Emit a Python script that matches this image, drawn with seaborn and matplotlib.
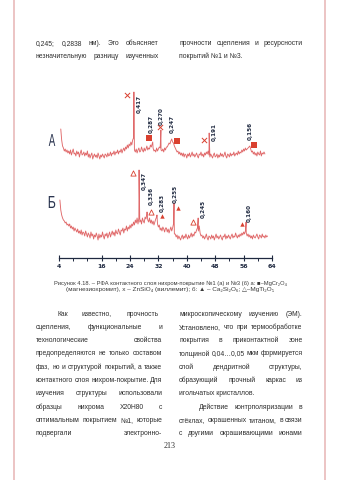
import matplotlib
matplotlib.use('Agg')
import matplotlib.pyplot as plt
import seaborn as sns
import numpy as np
import pandas as pd
from matplotlib.lines import Line2D
from matplotlib.textpath import TextPath
from matplotlib.patches import PathPatch
from matplotlib.font_manager import FontProperties
from matplotlib.transforms import Affine2D, IdentityTransform

W, H = 339, 480

# ---------------- data ----------------
# Trace A (coating No1): baseline samples every 0.25 deg from 4.5
A_base = [
    31, 20, 14, 12, 9, 11, 8, 10, 7, 9,
    6, 10, 5, 8, 11, 6, 7, 4, 9, 6,
    8, 3, 7, 10, 5, 6, 8, 4, 7, 5,
    9, 3, 6, 2, 5, 7, 1, 4, 6, 3,
    5, 2, 7, 4, 1, 5, 3, 6, 4, 2,
    6, 5, 3, 7, 4, 5, 8, 4, 7, 6,
    9, 5, 8, 7, 10, 6, 9, 8, 11, 7,
    10, 12, 9, 13, 11, 15, 12, 16, 14, 18,
    15, 20, 22, 10, 8, 11, 7, 10, 12, 8,
    9, 13, 10, 8, 12, 9, 11, 14, 10, 12,
    11, 15, 13, 16, 12, 9, 10, 8, 12, 9,
    11, 13, 12, 10, 9, 11, 8, 12, 10, 13,
    13, 15, 17, 16, 19, 21, 18, 17, 14, 12,
    10, 8, 9, 6, 8, 5, 7, 4, 7, 3,
    6, 5, 2, 6, 4, 7, 3, 5, 8, 4,
    6, 3, 5, 7, 4, 2, 6, 5, 8, 4,
    6, 3, 7, 5, 8, 6, 9, 5, 3, 6,
    4, 2, 5, 7, 3, 4, 6, 2, 5, 3,
    7, 4, 6, 3, 5, 8, 4, 2, 6, 5,
    3, 7, 4, 6, 5, 8, 4, 6, 7, 5,
    9, 6, 8, 7, 10, 8, 11, 9, 12, 10,
    11, 12, 13, 14, 11, 8, 9, 6, 8, 5,
    7, 4, 8, 6, 5, 9, 4, 7, 6, 8,
    6,
]
A_peak_x = [25.1, 30.4, 32.7, 46.3]
A_peak_y = [68, 18, 30, 27]

# Trace B (coating No3): baseline samples every 0.25 deg from 4.25
B_base = [
    42, 32, 27, 24, 22, 21, 19, 20, 17, 18,
    16, 18, 14, 16, 13, 15, 11, 14, 12, 10,
    13, 9, 11, 8, 12, 7, 10, 9, 6, 11,
    8, 5, 9, 7, 4, 10, 6, 8, 3, 7,
    5, 9, 6, 2, 8, 4, 7, 5, 10, 6,
    3, 8, 6, 9, 4, 7, 10, 5, 8, 11,
    7, 10, 6, 12, 9, 8, 13, 10, 7, 12,
    11, 14, 9, 13, 12, 16, 11, 15, 13, 17,
    14, 18, 16, 20, 17, 22, 19, 24, 18, 24,
    20, 22, 18, 24, 21, 19, 25, 23, 28, 22,
    20, 24, 19, 22, 18, 21, 17, 20, 23, 25,
    18, 15, 17, 12, 14, 11, 15, 13, 10, 14,
    14, 10, 13, 9, 12, 15, 11, 14, 18, 8,
    8, 5, 7, 3, 6, 4, 2, 5, 7, 3,
    6, 4, 8, 5, 3, 7, 4, 6, 9, 5,
    8, 6, 10, 9, 12, 14, 11, 16, 9, 6,
    7, 4, 6, 3, 5, 8, 4, 2, 6, 5,
    3, 7, 4, 6, 2, 5, 8, 4, 6, 3,
    5, 7, 4, 2, 6, 5, 8, 3, 6, 4,
    7, 5, 3, 6, 8, 4, 6, 5, 9, 6,
    4, 7, 5, 8, 6, 9, 7, 10, 8, 11,
    9, 6, 8, 5, 7, 4, 6, 3, 7, 5,
    4, 6, 8, 5, 3, 7, 6, 4, 8, 5,
    6, 4, 7, 5, 6,
]
B_peak_x = [26.55, 28.8, 31.6, 36.4, 43.2, 56.7]
B_peak_y = [72, 30, 27, 39, 24, 20]

# phase markers
A_sq_x, A_sq_y = [29.35, 37.24, 58.93], [22, 19, 15]          # MgCr2O4
A_x_x, A_x_y = [23.15, 32.45, 44.85], [65, 33, 20]             # ZnSiO4
B_tf_x, B_tf_y = [33.01, 37.52, 55.55], [26, 34, 18]            # Ca2Si2O6
B_to_x, B_to_y = [24.85, 29.92, 41.75], [69, 30, 20]            # MgTi2O5

A_labels = ['0,417', '0,287', '0,270', '0,247', '0,191', '0,156']
B_labels = ['0,347', '0,336', '0,283', '0,255', '0,245', '0,160']
# label anchor positions (x, bottom) in the panel's own units
A_lab_x = [26.54, 29.92, 32.73, 35.83, 47.66, 57.8]
A_lab_y = [47, 27, 35, 27, 19, 20]
B_lab_x = [27.94, 29.92, 33.0, 36.68, 44.56, 57.52]
B_lab_y = [52, 37, 30, 39, 24, 20]

major_ticks = [4, 16, 24, 32, 40, 48, 56, 64]
minor_ticks = [8, 12, 20, 28, 36, 44, 52, 60]

caption1 = "Рисунок 4.18. – РФА контактного слоя нихром-покрытие №1 (а) и №3 (б) а: ■–MgCr₂O₄"
caption2 = "(магнезиохромит), x – ZnSiO₄ (виллемит); б: ▲ – Ca₂Si₂O₆; △–MgTi₂O₅"

top_left = ["0,245; 0,2838 нм). Это объясняет", "незначительную разницу изученных"]
top_right = ["прочности сцепления и ресурсности", "покрытий №1 и №3."]
left_col = [
    "Как известно, прочность",
    "сцепления, функциональные и",
    "технологические свойства",
    "предопределяются не только составом",
    "фаз, но и структурой покрытий, а также",
    "контактного слоя нихром-покрытие. Для",
    "изучения структуры использовали",
    "образцы нихрома Х20Н80 с",
    "оптимальным покрытием №1, которые",
    "подвергали электронно-",
]
right_col = [
    "микроскопическому изучению (ЭМ).",
    "Установлено, что при термообработке",
    "покрытия в приконтактной зоне",
    "толщиной 0,04…0,05 мкм формируется",
    "слой дендритной структуры,",
    "образующий прочный каркас из",
    "игольчатых кристаллов.",
    "Действие контрполяризации в",
    "стёклах, окрашенных титаном, в связи",
    "с другими окрашивающими ионами",
]
page_no = "213"
panel_letters = ['А', 'Б']

# ---------------- style ----------------
sns.set_style('white')
plt.rcParams['font.family'] = ['Liberation Sans', 'DejaVu Sans']

TRACE = '#e0696a'
MRED = '#d9402f'
NAVY = '#1f2940'
TXT = '#2e2e2e'
BODY_FS = 4.9

fig = plt.figure(figsize=(W / 100, H / 100), dpi=100)
fig.patch.set_facecolor('white')
renderer = fig.canvas.get_renderer()

# page frame lines
for xp in (14, 325):
    fig.add_artist(Line2D([xp / W, xp / W], [0, 1], color='#e7b4b4', lw=1.1))

# ---------------- chart ----------------
AX_BOTTOM = 257.5
ax = fig.add_axes([59 / W, 1 - AX_BOTTOM / H, 213 / W, 197.5 / H])
ax.set_xlim(4, 64)
ax.set_ylim(0, 197.5)
OFF_A = AX_BOTTOM - 160
OFF_B = AX_BOTTOM - 242

def trace_df(base, x0, px, py, off):
    xs = x0 + 0.25 * np.arange(len(base))
    df = pd.DataFrame({'x': np.r_[xs, px], 'y': np.r_[base, py]}).sort_values('x')
    df['y'] = df['y'] + off
    return df

dfA = trace_df(A_base, 4.5, A_peak_x, A_peak_y, OFF_A)
dfB = trace_df(B_base, 4.25, B_peak_x, B_peak_y, OFF_B)
sns.lineplot(data=dfA, x='x', y='y', ax=ax, color=TRACE, lw=0.65, estimator=None, sort=False)
sns.lineplot(data=dfB, x='x', y='y', ax=ax, color=TRACE, lw=0.65, estimator=None, sort=False)

sns.scatterplot(x=A_sq_x, y=np.array(A_sq_y) + OFF_A, marker='s', s=18, color=MRED, linewidth=0, ax=ax)
sns.scatterplot(x=A_x_x, y=np.array(A_x_y) + OFF_A, marker='x', s=14, color=MRED, linewidth=0.7, ax=ax)
sns.scatterplot(x=B_tf_x, y=np.array(B_tf_y) + OFF_B, marker='^', s=10, color=MRED, linewidth=0, ax=ax)
sns.scatterplot(x=B_to_x, y=np.array(B_to_y) + OFF_B, marker='^', s=14, color='white',
                edgecolor=MRED, linewidth=0.6, ax=ax)

LAB_FS = 4.1
for s, xx, yy in zip(A_labels, A_lab_x, A_lab_y):
    ax.text(xx, yy + OFF_A, s, rotation=90, ha='center', va='bottom', fontsize=LAB_FS,
            fontweight='bold', color=NAVY, family='DejaVu Sans')
for s, xx, yy in zip(B_labels, B_lab_x, B_lab_y):
    ax.text(xx, yy + OFF_B, s, rotation=90, ha='center', va='bottom', fontsize=LAB_FS,
            fontweight='bold', color=NAVY, family='DejaVu Sans')

for sp in ('top', 'left', 'right'):
    ax.spines[sp].set_visible(False)
ax.spines['bottom'].set_color(NAVY)
ax.spines['bottom'].set_linewidth(0.9)
ax.set_yticks([])
ax.set_xticks(major_ticks)
ax.set_xticks(minor_ticks, minor=True)
ax.set_xticklabels([str(t) for t in major_ticks])
ax.tick_params(axis='x', which='major', bottom=True, direction='inout', length=4.5, width=0.8,
               color=NAVY, labelsize=4.4, pad=2.6, labelcolor=NAVY)
ax.tick_params(axis='x', which='minor', bottom=True, direction='out', length=2.2, width=0.7, color=NAVY)
for lab in ax.get_xticklabels():
    lab.set_fontweight('bold')
    lab.set_family('DejaVu Sans')
ax.set_xlabel('')
ax.set_ylabel('')
ax.patch.set_alpha(0)

# panel letters: tall, condensed glyphs
fp = FontProperties(family='Liberation Sans')
for letter, (cx, cy) in zip(panel_letters, [(52, 140), (52, 202)]):
    tp = TextPath((0, 0), letter, size=10, prop=fp)
    bb = tp.get_extents()
    sx, sy = 6.5 / bb.width, 12.0 / bb.height
    tr = (Affine2D().translate(-bb.x0 - bb.width / 2, -bb.y0 - bb.height / 2)
          .scale(sx, sy).translate(cx, H - cy))
    patch = PathPatch(tr.transform_path(tp), facecolor='#2b3550', edgecolor='none',
                      transform=IdentityTransform())
    fig.add_artist(patch)

# ---------------- page text ----------------
FAM = ['Liberation Sans', 'DejaVu Sans']

def width(s, fs, fam=FAM):
    t = fig.text(0, 0, s, fontsize=fs, family=fam)
    w = t.get_window_extent(renderer=renderer).width
    t.remove()
    return w

def put(x, y, s, fs=BODY_FS, ha='left', fam=FAM, color=TXT):
    fig.text(x / W, 1 - y / H, s, fontsize=fs, family=fam, ha=ha, va='center', color=color)

def justify(line, x0, x1, y, fs=BODY_FS):
    words = line.split()
    if len(words) == 1:
        put(x0, y, line, fs)
        return
    ws = [width(w, fs) for w in words]
    gap = (x1 - x0 - sum(ws)) / (len(words) - 1)
    x = x0
    for w, wd in zip(words, ws):
        put(x, y, w, fs)
        x += wd + gap

justify(top_left[0], 36, 158.3, 43.3)
justify(top_left[1], 36, 158.3, 56.2)
justify(top_right[0], 179, 302.7, 43.3)
put(179, 56.2, top_right[1])

ys = [314 + 13.33 * i for i in range(10)]
for i, (line, y) in enumerate(zip(left_col, ys)):
    x0 = 57.3 if i == 0 else 36
    x1 = 158.3 if i == 0 else 162
    justify(line, x0, x1, y)
for i, (line, y) in enumerate(zip(right_col, ys)):
    if i == 6:
        put(179, y, line)
        continue
    x0 = 199 if i == 7 else 179
    justify(line, x0, 302.6, y)

# caption, fitted to its measured width
for line, xa, xb, y in ((caption1, 55, 286, 283.3), (caption2, 68, 272, 289.4)):
    fs = 4.0 * (xb - xa) / width(line, 4.0)
    put((xa + xb) / 2, y, line, fs=fs, ha='center', color='#3a3a3a')

put(169.5, 446, page_no, fs=5.8, ha='center', fam=['Liberation Serif', 'DejaVu Serif'])

fig.savefig('out.png', dpi=100, facecolor='white')
